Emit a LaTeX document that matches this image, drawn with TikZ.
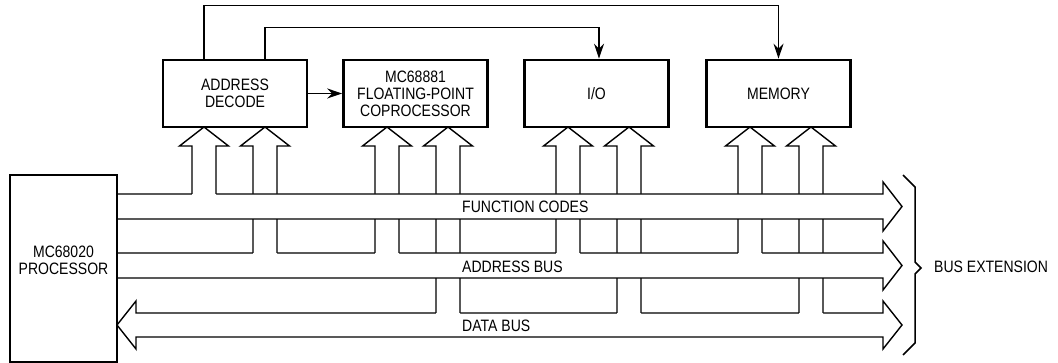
\documentclass[tikz,border=0pt]{standalone}
\usepackage{fontspec}
\setmainfont{Liberation Sans}[FakeStretch=0.85]
\usetikzlibrary{arrows.meta}

\tikzset{
  unit/.style={draw, line width=2.6pt, minimum width=144pt, minimum height=67pt, align=center, inner sep=0pt},
  bus/.style={draw, fill=white, line width=1.4pt, line join=miter},
  busline/.style={line width=1.4pt, line join=miter},
  link/.style={line width=1.2pt, -{Stealth[length=15pt,width=10pt,inset=5pt]}},
  buslabel/.style={anchor=west, inner sep=0pt},
}

\begin{document}
\begin{tikzpicture}[x=1pt, y=-1pt, font=\fontsize{16.5}{17}\selectfont]
    \useasboundingbox (0,0) rectangle (1058,363);

    % data bus and its branches
    \draw[bus] (136,313) -- (883,313) -- (883,301) -- (902,325) -- (883,349) -- (883,337) -- (136,337) -- (136,349) -- (117,325) -- (136,301) -- cycle;
    \foreach \t in {448,629,811} {
        \fill[white] ({\t-12},314) -- ({\t-12},146) -- ({\t-24.5},146) -- (\t,127) -- ({\t+24.5},146) -- ({\t+12},146) -- ({\t+12},314) -- cycle;
        \draw[busline] ({\t-12},313) -- ({\t-12},146) -- ({\t-24.5},146) -- (\t,127) -- ({\t+24.5},146) -- ({\t+12},146) -- ({\t+12},313);
    }

    % address bus and its branches
    \draw[bus] (117,253) -- (883,253) -- (883,241) -- (902,265.5) -- (883,290) -- (883,278) -- (117,278) -- cycle;
    \foreach \t in {265,387,568,750} {
        \fill[white] ({\t-12},254) -- ({\t-12},146) -- ({\t-24.5},146) -- (\t,127) -- ({\t+24.5},146) -- ({\t+12},146) -- ({\t+12},254) -- cycle;
        \draw[busline] ({\t-12},253) -- ({\t-12},146) -- ({\t-24.5},146) -- (\t,127) -- ({\t+24.5},146) -- ({\t+12},146) -- ({\t+12},253);
    }

    % function codes and its branch
    \draw[bus] (117,194) -- (883,194) -- (883,182) -- (902,206.5) -- (883,231) -- (883,219) -- (117,219) -- cycle;
    \foreach \t in {204} {
        \fill[white] ({\t-12},195) -- ({\t-12},146) -- ({\t-24.5},146) -- (\t,127) -- ({\t+24.5},146) -- ({\t+12},146) -- ({\t+12},195) -- cycle;
        \draw[busline] ({\t-12},194) -- ({\t-12},146) -- ({\t-24.5},146) -- (\t,127) -- ({\t+24.5},146) -- ({\t+12},146) -- ({\t+12},194);
    }

    \node[buslabel] (fc) at (462,207) {FUNCTION CODES};
    \node[buslabel] (ab) at (462,267) {ADDRESS BUS};
    \node[buslabel] (db) at (462,326) {DATA BUS};

    % units
    \node[unit, minimum width=107pt, minimum height=187pt, line width=2pt] (cpu) at (63.5,268.5) {};
    \node[align=center] (cputext) at (63.5,260) {MC68020\\PROCESSOR};
    \node[unit] (dec) at (235,93.5) {ADDRESS\\DECODE};
    \node[unit] (fpu) at (415.5,93.5) {MC68881\\FLOATING-POINT\\COPROCESSOR};
    \node[unit] (io) at (596.5,93.5) {I/O};
    \node[unit] (mem) at (778.5,93.5) {MEMORY};

    \draw[link] ([xshift=-31pt]dec.north) -- ++(0,-53) -| (mem.north);
    \draw[link] ([xshift=30pt]dec.north) -- ++(0,-31) -| ([xshift=2.5pt]io.north);
    \draw[link] (dec.east) -- (fpu.west);

    % bus extension
    \draw[line width=1.5pt] (903,175) -- (915,187) -- (915,262) -- (921,268) -- (915,274) -- (915,343) -- (903,355);
    \node[anchor=west, inner sep=0pt] (ext) at (934,267) {BUS EXTENSION};
\end{tikzpicture}
\end{document}
